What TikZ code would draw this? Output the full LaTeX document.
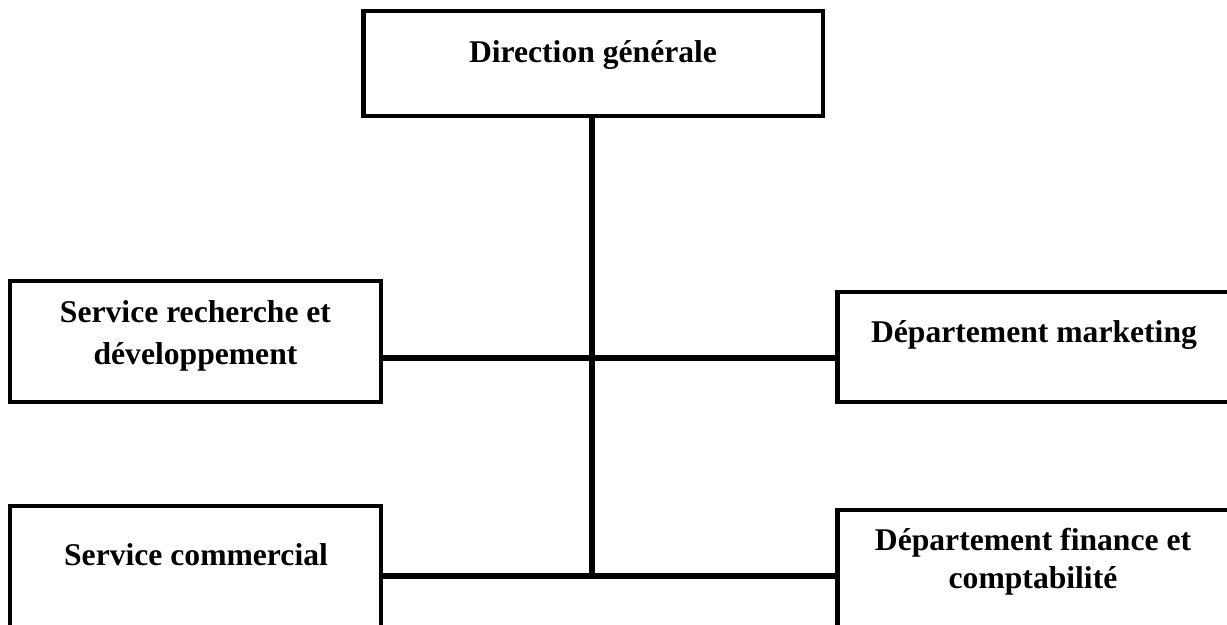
\documentclass[tikz,border=0pt]{standalone}
\usepackage{fontspec}
\setmainfont{Liberation Serif}
\usetikzlibrary{positioning}

\tikzset{
  box/.style={draw, line width=2.8pt, rectangle, inner sep=0pt},
  lbl/.style={align=center, inner sep=0pt, font=\fontsize{18}{24}\selectfont\bfseries},
  link/.style={line width=3.2pt}
}

\begin{document}
\begin{tikzpicture}[x=0.02cm, y=-0.02cm]

% Frame of the picture
\useasboundingbox (0,0) rectangle (1227,625);
\clip (0,0) rectangle (1227,625);

% Draw the boxes
\node[box, minimum width=9.2cm, minimum height=2.1cm] (dg) at (593,63.5) {};
\node[box, minimum width=7.42cm, minimum height=2.42cm] (srd) at (195.5,341.5) {};
\node[box, minimum width=7.84cm, minimum height=2.2cm] (mkt) at (1033,347) {};
\node[box, minimum width=7.42cm, minimum height=2.7cm] (sc) at (195.5,573.5) {};
\node[box, minimum width=7.84cm, minimum height=2.6cm] (dfc) at (1033,575) {};

% Texts
\node[lbl] (dgtext) at (593,55) {Direction générale};
\node[lbl] (srdtext) at (195.5,336) {Service recherche et\\développement};
\node[lbl] (mkttext) at (1034,335) {Département marketing};
\node[lbl] (sctext) at (196,555) {Service commercial};
\node[lbl, font=\fontsize{18}{21.5}\selectfont\bfseries] (dfctext) at (1033,562) {Département finance et\\comptabilité};

% Junctions
\coordinate (midj) at (592,358);
\coordinate (lowj) at (592,576);

% Draw the links
\draw[link] (dg.south -| midj) -- (lowj);
\draw[link] (srd.east |- midj) -- (mkt.west |- midj);
\draw[link] (sc.east |- lowj) -- (dfc.west |- lowj);

\end{tikzpicture}
\end{document}
